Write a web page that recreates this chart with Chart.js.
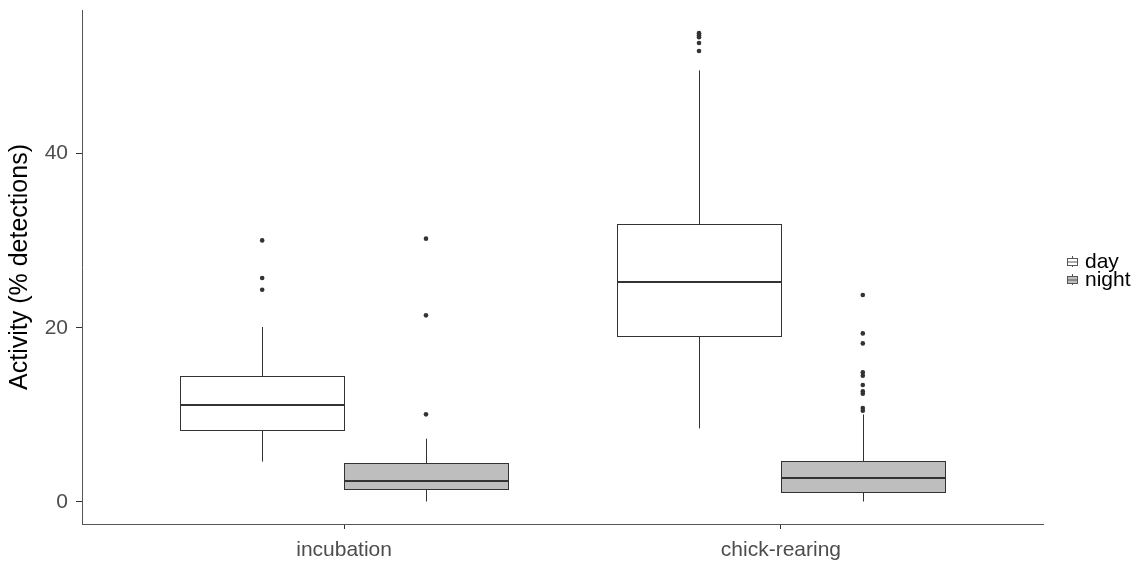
<!DOCTYPE html>
<html>
<head>
<meta charset="utf-8">
<script src="https://cdn.jsdelivr.net/npm/chart.js@4.4.1/dist/chart.umd.min.js"></script>
<style>
  html, body { margin: 0; padding: 0; background: #fff; }
  #wrap { width: 1141px; height: 565px; }
</style>
</head>
<body>
<div id="wrap"><canvas id="chart" width="1141" height="565"></canvas></div>
<script>
// Categories, groups and axis ticks
const categories = ['incubation', 'chick-rearing'];
const groups = ['day', 'night'];
const yTicks = [0, 20, 40];

// Box statistics (one value per category)
const dayLow = [4.63, 8.45];
const dayQ1 = [8.22, 19.02];
const dayMedian = [11.17, 25.27];
const dayQ3 = [14.47, 31.93];
const dayHigh = [20.10, 49.57];
const dayOutliers = [
    [30.04, 25.72, 24.38],
    [53.84, 53.61, 53.38, 52.71, 51.79]
];

const nightLow = [0.05, 0.05];
const nightQ1 = [1.49, 1.15];
const nightMedian = [2.45, 2.76];
const nightQ3 = [4.43, 4.74];
const nightHigh = [7.27, 10.05];
const nightOutliers = [
    [30.24, 21.43, 10.06],
    [23.77, 19.36, 18.21, 14.88, 14.50, 13.44, 12.70, 12.44, 10.80, 10.49]
];

const groupFill = ['#ffffff', '#bebebe'];
const lineColor = '#333333';
const FONT = "'Liberation Sans', Arial, sans-serif";
const DODGE = 0.1875; // half of the dodged box width, in category units

// group -> per-category stats
const stats = [
    {low: dayLow, q1: dayQ1, med: dayMedian, q3: dayQ3, high: dayHigh},
    {low: nightLow, q1: nightQ1, med: nightMedian, q3: nightQ3, high: nightHigh}
];

function groupX(catIndex, g) {
    return catIndex + 1 + (g === 0 ? -DODGE : DODGE);
}

// outlier points go through the scatter controller
function outlierData(list, g) {
    const pts = [];
    list.forEach(function(vals, i) {
        vals.forEach(function(v) { pts.push({x: groupX(i, g), y: v}); });
    });
    return pts;
}

function crisp(v) { return Math.round(v) + 0.5; }

// Draws boxes, whiskers and medians using the chart scales
const boxPlugin = {
    id: 'boxes',
    beforeDatasetsDraw: function(chart) {
        const ctx = chart.ctx;
        const xs = chart.scales.x, ys = chart.scales.y;
        ctx.save();
        stats.forEach(function(s, g) {
            categories.forEach(function(c, i) {
                const cx = groupX(i, g);
                const left = Math.round(xs.getPixelForValue(cx - DODGE));
                const right = Math.round(xs.getPixelForValue(cx + DODGE));
                const mid = crisp(xs.getPixelForValue(cx));
                const yLo = ys.getPixelForValue(s.low[i]);
                const yQ1 = Math.round(ys.getPixelForValue(s.q1[i]));
                const yMed = ys.getPixelForValue(s.med[i]);
                const yQ3 = Math.round(ys.getPixelForValue(s.q3[i]));
                const yHi = ys.getPixelForValue(s.high[i]);

                // whiskers
                ctx.strokeStyle = lineColor;
                ctx.lineWidth = 1;
                ctx.beginPath();
                ctx.moveTo(mid, yHi); ctx.lineTo(mid, yQ3);
                ctx.moveTo(mid, yQ1); ctx.lineTo(mid, yLo);
                ctx.stroke();

                // box
                ctx.fillStyle = groupFill[g];
                ctx.fillRect(left, yQ3, right - left, yQ1 - yQ3);
                ctx.strokeRect(left + 0.5, yQ3 + 0.5, right - left, yQ1 - yQ3);

                // median
                ctx.lineWidth = 2;
                ctx.beginPath();
                ctx.moveTo(left, Math.round(yMed));
                ctx.lineTo(right + 1, Math.round(yMed));
                ctx.stroke();
            });
        });
        ctx.restore();
    }
};

// Small boxplot keys on the right side
const legendPlugin = {
    id: 'boxLegend',
    afterDraw: function(chart) {
        const ctx = chart.ctx;
        const x0 = 1067, rowTop = [256, 274], rowH = 11;
        ctx.save();
        groups.forEach(function(name, g) {
            const t = rowTop[g];
            const midX = x0 + 5.5;
            ctx.strokeStyle = '#555';
            ctx.lineWidth = 1;
            ctx.beginPath();
            ctx.moveTo(midX, t); ctx.lineTo(midX, t + rowH);
            ctx.stroke();
            ctx.fillStyle = groupFill[g];
            ctx.fillRect(x0, t + 2, 10, rowH - 4);
            ctx.strokeRect(x0 + 0.5, t + 2.5, 10, rowH - 4);
            ctx.beginPath();
            ctx.moveTo(x0, t + 6); ctx.lineTo(x0 + 11, t + 6);
            ctx.stroke();

            ctx.fillStyle = '#000';
            ctx.font = '21px ' + FONT;
            ctx.textAlign = 'left';
            ctx.textBaseline = 'alphabetic';
            ctx.fillText(name, 1085, t + 12);
        });
        ctx.restore();
    }
};

const chart = new Chart(document.getElementById('chart'), {
    type: 'scatter',
    data: {
        datasets: [
            {
                label: 'day outliers',
                data: outlierData(dayOutliers, 0),
                pointRadius: 2.3,
                pointBackgroundColor: lineColor,
                pointBorderWidth: 0
            },
            {
                label: 'night outliers',
                data: outlierData(nightOutliers, 1),
                pointRadius: 2.3,
                pointBackgroundColor: lineColor,
                pointBorderWidth: 0
            }
        ]
    },
    options: {
        responsive: false,
        animation: false,
        devicePixelRatio: 1,
        layout: { padding: { left: 0, right: 98, top: 10, bottom: 0 } },
        plugins: {
            legend: { display: false },
            tooltip: { enabled: false }
        },
        scales: {
            x: {
                type: 'linear',
                min: 0.4,
                max: 2.6,
                afterFit: function(scale) {
                    scale.height = 41;
                    scale.paddingLeft = 0; scale.paddingRight = 0;
                },
                afterBuildTicks: function(scale) {
                    scale.ticks = categories.map(function(c, i) { return {value: i + 1}; });
                },
                ticks: {
                    padding: 9,
                    color: '#4d4d4d',
                    font: { family: FONT, size: 21 },
                    callback: function(v) { return categories[Math.round(v) - 1]; }
                },
                grid: {
                    drawOnChartArea: false,
                    drawTicks: true,
                    tickLength: 5,
                    color: '#333'
                },
                border: { color: '#555', width: 1 }
            },
            y: {
                min: -2.53,
                max: 56.5,
                afterFit: function(scale) {
                    scale.width = 82;
                    scale.paddingTop = 0; scale.paddingBottom = 0;
                },
                afterBuildTicks: function(scale) {
                    scale.ticks = yTicks.map(function(v) { return {value: v}; });
                },
                ticks: {
                    padding: 8,
                    color: '#4d4d4d',
                    font: { family: FONT, size: 21 }
                },
                grid: {
                    drawOnChartArea: false,
                    drawTicks: true,
                    tickLength: 6,
                    color: '#333'
                },
                border: { color: '#555', width: 1 },
                title: {
                    display: true,
                    text: 'Activity (% detections)',
                    color: '#000',
                    font: { family: FONT, size: 25 },
                    padding: { top: 5, bottom: 0 }
                }
            }
        }
    },
    plugins: [boxPlugin, legendPlugin]
});
</script>
</body>
</html>
